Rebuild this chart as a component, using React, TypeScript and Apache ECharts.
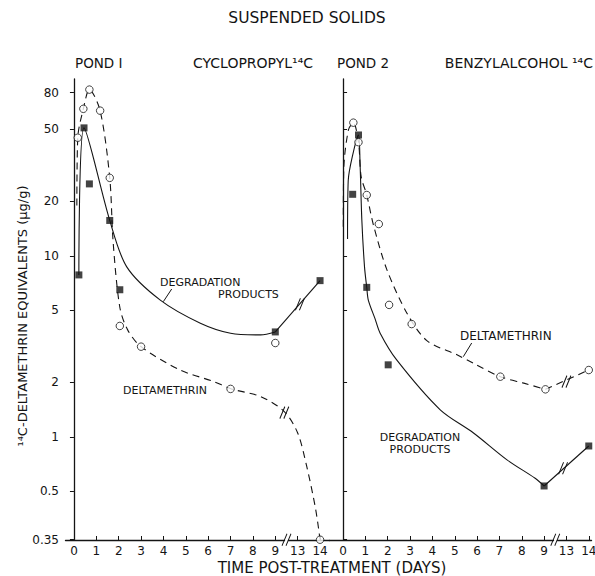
import { useEffect, useRef } from 'react';
import * as echarts from 'echarts';

const FONT = '"DejaVu Sans", sans-serif';
const INK = '#141414';

// ---- axes ----
const Y_MIN = 0.269;
const Y_MAX = 95;
const Y_TICK_VALUES = [0.27, 0.5, 1, 2, 5, 10, 20, 50, 80];
const Y_TICK_LABELS = ['0.35', '0.5', '1', '2', '5', '10', '20', '50', '80'];
const X_TICK_VALUES = [0, 1, 2, 3, 4, 5, 6, 7, 8, 9, 13, 14];
const X_BREAK = { start: 9.4, end: 12.6, gap: 0.2 };

// ---- Pond 1 (cyclopropyl 14C) ----
const pond1SquareTimes = [0.22, 0.45, 0.69, 1.6, 2.05, 9, 14];
const pond1SquareValues = [7.85, 51, 25, 15.7, 6.5, 3.8, 7.3];
const pond1CircleTimes = [0.17, 0.42, 0.69, 1.17, 1.6, 2.05, 3.0, 7.0, 9.0, 14];
const pond1CircleValues = [45, 65, 83, 63.5, 27, 4.1, 3.15, 1.84, 3.3, 0.27];
const pond1DegCurveTimes = [0.22, 0.45, 1.6, 2.36, 3.86, 5.65, 7.0, 8.34, 9];
const pond1DegCurveValues = [7.85, 51, 15.7, 8.7, 5.7, 4.25, 3.74, 3.66, 3.8];
const pond1DegTailTimes = [9, 14];
const pond1DegTailValues = [3.8, 7.3];
const pond1DeltaCurveTimes = [0.13, 0.17, 0.42, 0.69, 1.17, 1.6, 1.75, 2.05, 2.4, 3.0, 4.75, 6.25, 7.04, 8.34, 9.4, 13.0, 13.4, 13.8, 14];
const pond1DeltaCurveValues = [19, 45, 65, 83, 63.5, 27, 12, 5.2, 3.9, 3.15, 2.34, 2.02, 1.84, 1.67, 1.38, 1.05, 0.69, 0.4, 0.27];

// ---- Pond 2 (benzylalcohol 14C) ----
const pond2SquareTimes = [0.43, 0.69, 1.06, 2.02, 9, 14];
const pond2SquareValues = [21.9, 46.6, 6.7, 2.5, 0.535, 0.89];
const pond2CircleTimes = [0.46, 0.69, 1.06, 1.6, 2.06, 3.07, 7.04, 9.06, 14];
const pond2CircleValues = [54.5, 42.5, 21.7, 15.0, 5.36, 4.2, 2.15, 1.83, 2.34];
const pond2DegCurveTimes = [0.2, 0.23, 0.45, 0.69, 0.76, 0.84, 0.96, 1.06, 1.13, 1.43, 1.66, 2.4, 4.35, 5.84, 7.34, 8.6, 9];
const pond2DegCurveValues = [12.4, 26, 37, 46.6, 32.5, 15.8, 8.7, 6.7, 5.7, 4.5, 3.74, 2.66, 1.41, 1.05, 0.746, 0.59, 0.535];
const pond2DegTailTimes = [9, 14];
const pond2DegTailValues = [0.535, 0.89];
const pond2DeltaCurveTimes = [0.01, 0.03, 0.24, 0.46, 0.69, 0.81, 1.06, 1.36, 1.96, 2.86, 3.75, 5.1, 5.84, 7.04, 8.09, 9.06];
const pond2DeltaCurveValues = [14.5, 30, 49.7, 54.5, 42.5, 27.4, 21.7, 14.8, 8.4, 4.82, 3.4, 2.84, 2.55, 2.15, 1.98, 1.83];
const pond2DeltaTailTimes = [9.06, 14];
const pond2DeltaTailValues = [1.83, 2.34];

// break marks ("//") drawn on the axes and on the curves, in data coordinates
const pond1BreakMarks = [[11, Y_TICK_VALUES[0]], [13.1, 5.4], [9.45, 1.36]];
const pond2BreakMarks = [[11, Y_TICK_VALUES[0]], [13.0, 2.02], [12.85, 0.67]];

const pairs = (t: number[], v: number[]) => t.map((x, i) => [x, v[i]]);
const BREAK_SYMBOL = 'path://M0,12L5,0M4,12L9,0';

function yLabel(v: number) {
  let best = 0;
  let bestD = Infinity;
  Y_TICK_VALUES.forEach((t, i) => {
    const d = Math.abs(Math.log(v) - Math.log(t));
    if (d < bestD) { bestD = d; best = i; }
  });
  return Y_TICK_LABELS[best];
}

function xAxisCfg(gridIndex: number, min: number, max: number) {
  return {
    type: 'value',
    gridIndex,
    min,
    max,
    breaks: [{ start: X_BREAK.start, end: X_BREAK.end, gap: X_BREAK.gap }],
    breakArea: { show: false },
    axisLine: { show: true, onZero: false, lineStyle: { color: INK, width: 1.4 } },
    axisTick: { show: true, inside: true, length: 4, customValues: X_TICK_VALUES, lineStyle: { color: INK, width: 1 } },
    axisLabel: {
      show: true,
      customValues: X_TICK_VALUES,
      color: INK,
      fontFamily: FONT,
      fontSize: 12,
      margin: 5,
      formatter: (v: number) => String(Math.round(v)),
    },
    splitLine: { show: false },
  };
}

function yAxisCfg(gridIndex: number, showLabels: boolean) {
  return {
    type: 'log',
    logBase: 10,
    gridIndex,
    min: Y_MIN,
    max: Y_MAX,
    axisLine: { show: true, lineStyle: { color: INK, width: 1.3 } },
    axisTick: { show: true, inside: !showLabels, length: 4, customValues: Y_TICK_VALUES, lineStyle: { color: INK, width: 1 } },
    axisLabel: {
      show: showLabels,
      customValues: Y_TICK_VALUES,
      color: INK,
      fontFamily: FONT,
      fontSize: 12,
      margin: 6,
      formatter: (v: number) => yLabel(v),
    },
    minorTick: { show: false },
    splitLine: { show: false },
  };
}

function curve(name: string, idx: number, data: number[][], dashed: boolean, smooth: number | boolean, marks?: number[][]) {
  return {
    name,
    type: 'line',
    xAxisIndex: idx,
    yAxisIndex: idx,
    data,
    smooth,
    showSymbol: false,
    symbol: 'none',
    lineStyle: { color: INK, width: 1.1, type: dashed ? [7, 5] : 'solid' },
    z: 2,
    silent: true,
    markPoint: marks
      ? {
          symbol: BREAK_SYMBOL,
          symbolSize: [9, 12],
          silent: true,
          label: { show: false },
          itemStyle: { color: 'rgba(0,0,0,0)', borderColor: INK, borderWidth: 1.1 },
          data: marks.map((c) => ({ coord: c })),
        }
      : undefined,
  };
}

function points(name: string, idx: number, data: number[][], square: boolean) {
  return {
    name,
    type: 'scatter',
    xAxisIndex: idx,
    yAxisIndex: idx,
    data,
    symbol: square ? 'rect' : 'circle',
    symbolSize: square ? 7 : 7.5,
    itemStyle: square
      ? { color: INK }
      : { color: '#ffffff', borderColor: INK, borderWidth: 1 },
    z: 4,
    silent: true,
  };
}

function txt(text: string, x: number, y: number, size: number, align: string = 'left', extra: any = {}) {
  return {
    type: 'text',
    x,
    y,
    z: 10,
    silent: true,
    ...extra,
    style: {
      text,
      fill: INK,
      font: `${size}px ${FONT}`,
      fontSize: size,
      fontFamily: FONT,
      align,
      verticalAlign: 'middle',
      textAlign: align,
      textVerticalAlign: 'middle',
    },
  };
}

function leader(x1: number, y1: number, x2: number, y2: number) {
  return {
    type: 'line',
    z: 10,
    silent: true,
    shape: { x1, y1, x2, y2 },
    style: { stroke: INK, lineWidth: 1 },
  };
}

export default function App() {
  const ref = useRef<HTMLDivElement>(null);

  useEffect(() => {
    if (!ref.current) return;
    const chart = echarts.init(ref.current, undefined, { renderer: 'svg' });
    const option: any = {
      animation: false,
      backgroundColor: '#ffffff',
      textStyle: { fontFamily: FONT },
      grid: [
        { left: 65, top: 79, width: 264, height: 461, outerBoundsMode: 'none', containLabel: false },
        { left: 329, top: 79, width: 262, height: 461, outerBoundsMode: 'none', containLabel: false },
      ],
      xAxis: [xAxisCfg(0, -0.4, 14.4), xAxisCfg(1, -0.63, 14.1)],
      yAxis: [yAxisCfg(0, true), yAxisCfg(1, false)],
      series: [
        curve('Pond 1 degradation products', 0, pairs(pond1DegCurveTimes, pond1DegCurveValues), false, 0.3),
        curve('Pond 1 degradation tail', 0, pairs(pond1DegTailTimes, pond1DegTailValues), false, false, pond1BreakMarks.slice(0, 2)),
        curve('Pond 1 deltamethrin', 0, pairs(pond1DeltaCurveTimes, pond1DeltaCurveValues), true, 0.3, pond1BreakMarks.slice(2)),
        points('Pond 1 degradation points', 0, pairs(pond1SquareTimes, pond1SquareValues), true),
        points('Pond 1 deltamethrin points', 0, pairs(pond1CircleTimes, pond1CircleValues), false),
        curve('Pond 2 degradation products', 1, pairs(pond2DegCurveTimes, pond2DegCurveValues), false, 0.3),
        curve('Pond 2 degradation tail', 1, pairs(pond2DegTailTimes, pond2DegTailValues), false, false, [pond2BreakMarks[0], pond2BreakMarks[2]]),
        curve('Pond 2 deltamethrin', 1, pairs(pond2DeltaCurveTimes, pond2DeltaCurveValues), true, 0.3),
        curve('Pond 2 deltamethrin tail', 1, pairs(pond2DeltaTailTimes, pond2DeltaTailValues), true, false, [pond2BreakMarks[1]]),
        points('Pond 2 degradation points', 1, pairs(pond2SquareTimes, pond2SquareValues), true),
        points('Pond 2 deltamethrin points', 1, pairs(pond2CircleTimes, pond2CircleValues), false),
      ],
      graphic: [
        txt('SUSPENDED SOLIDS', 307, 18, 15.5, 'center'),
        txt('POND I', 75, 63, 13.5),
        txt('CYCLOPROPYL\u00B9\u2074C', 193, 63, 14),
        txt('POND 2', 337, 63, 13.5),
        txt('BENZYLALCOHOL \u00B9\u2074C', 593, 63, 14, 'right'),
        txt('\u00B9\u2074C-DELTAMETHRIN EQUIVALENTS (\u03BCg/g)', 22, 316, 13, 'center', { rotation: Math.PI / 2 }),
        txt('TIME POST-TREATMENT (DAYS)', 332, 568, 15, 'center'),
        txt('DEGRADATION', 160, 282, 11),
        txt('PRODUCTS', 218, 294, 11),
        leader(171.7, 289, 163.3, 301.7),
        txt('DELTAMETHRIN', 207, 390, 11, 'right'),
        txt('DELTAMETHRIN', 460, 336, 12),
        leader(471.7, 343, 463.3, 356.7),
        txt('DEGRADATION', 420, 437, 11, 'center'),
        txt('PRODUCTS', 420, 449, 11, 'center'),
      ],
    };
    chart.setOption(option);
    return () => chart.dispose();
  }, []);

  return (
    <div
      ref={ref}
      style={{ position: 'fixed', left: 0, top: 0, width: 595, height: 576, background: '#fff' }}
    />
  );
}
